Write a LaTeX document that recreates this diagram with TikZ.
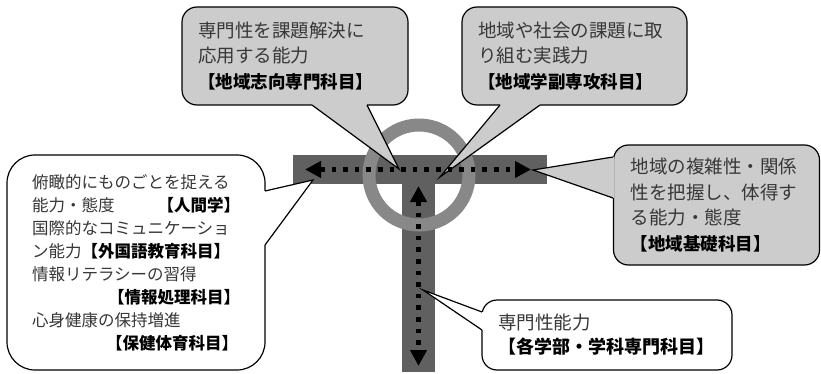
\documentclass[tikz,border=0pt]{standalone}
\usepackage{fontspec}
\newfontfamily\jp{Noto Sans CJK JP}
\usetikzlibrary{arrows.meta, calc}
\definecolor{barcol}{RGB}{96,96,96}
\definecolor{ringcol}{RGB}{136,136,136}
\definecolor{boxgray}{RGB}{204,204,204}
\definecolor{txtcol}{RGB}{55,55,55}
\newcommand{\kamoku}[1]{{\bfseries\color{black}\fontsize{17.5}{25.5}\selectfont #1}}
\tikzset{
  bubble/.style={draw, line width=1.2pt, rounded corners=15pt, inner xsep=16pt, inner ysep=0pt,
    align=left, text=txtcol, font=\jp\fontsize{18.5}{25.5}\selectfont},
  gaz/.style={fill=boxgray},
  dotarrow/.style={line width=4.6pt, dash pattern=on 4.6pt off 7pt,
    {Triangle[length=16pt,width=16pt]}-{Triangle[length=16pt,width=16pt]}},
}

\begin{document}
\begin{tikzpicture}[x=1pt,y=-1pt]
\useasboundingbox (0,0) rectangle (821,374);
% T bars and ring
\fill[barcol] (293,155) rectangle (547,184);
\fill[barcol] (402,184) rectangle (435,372);
\draw[ringcol, line width=13pt] (419,175) circle[radius=50pt];
% bubbles
\node[bubble, gaz, text width=194pt, minimum height=98pt] (A) at (295,56)
  {専門性を課題解決に\\応用する能力\\\kamoku{【地域志向専門科目】}};
\node[bubble, gaz, text width=193pt, minimum height=98pt] (B) at (574.5,56)
  {地域や社会の課題に取\\り組む実践力\\\kamoku{【地域学副専攻科目】}};
\node[bubble, fill=white, rounded corners=28pt, inner xsep=25pt, text width=208pt, minimum height=215pt,
  font=\jp\fontsize{16.5}{23}\selectfont] (C) at (136,262.5)
  {俯瞰的にものごとを捉える\\能力・態度\hspace*{\fill}\kamoku{\fontsize{16.5}{23}\selectfont【人間学】}\hspace*{2pt}\\
   国際的なコミュニケーショ\\ン能力\kamoku{\fontsize{16.5}{23}\selectfont【外国語教育科目】}\\
   情報リテラシーの習得\\\hspace*{\fill}\kamoku{\fontsize{16.5}{23}\selectfont【情報処理科目】}\hspace*{2pt}\\
   心身健康の保持増進\\\hspace*{\fill}\kamoku{\fontsize{16.5}{23}\selectfont【保健体育科目】}\hspace*{2pt}};
\node[bubble, gaz, inner xsep=17pt, text width=172pt, minimum height=120pt] (D) at (716.5,205)
  {地域の複雑性・関係\\性を把握し、体得す\\る能力・態度\\\kamoku{【地域基礎科目】}};
\node[bubble, fill=white, text width=218pt, minimum height=70pt,
  font=\jp\fontsize{18.5}{24}\selectfont] (E) at (607,335)
  {専門性能力\\\kamoku{\fontsize{18}{24}\selectfont【各学部・学科専門科目】}};
% pointers
\coordinate (Aa) at (312,105); \coordinate (Ab) at (367,105); \coordinate (At) at (399,169);
\coordinate (Ba) at (500,105); \coordinate (Bb) at (540,105); \coordinate (Bt) at (440,177);
\coordinate (Ca) at (265,191); \coordinate (Cb) at (265,245); \coordinate (Ct) at (313,180);
\coordinate (Da) at (613,157); \coordinate (Db) at (613,198); \coordinate (Dt) at (533,170);
\coordinate (Ea) at (482,312); \coordinate (Eb) at (482,330); \coordinate (Et) at (423,290);
\foreach \n/\col in {A/boxgray,B/boxgray,C/white,D/boxgray,E/white} {
  \fill[\col] (\n a) -- (\n t) -- (\n b) -- cycle;
  \draw[\col, line width=2.6pt] (\n a) -- (\n b);
  \draw[line width=1.2pt] (\n a) -- (\n t) -- (\n b);
}
% dotted arrows
\coordinate (L) at (305,169.5);
\coordinate (R) at (531,169.5);
\coordinate (U) at (418.5,186);
\coordinate (Dn) at (418.5,366);
\draw[dotarrow] (L) -- (R);
\draw[dotarrow] (U) -- (Dn);
\end{tikzpicture}
\end{document}
